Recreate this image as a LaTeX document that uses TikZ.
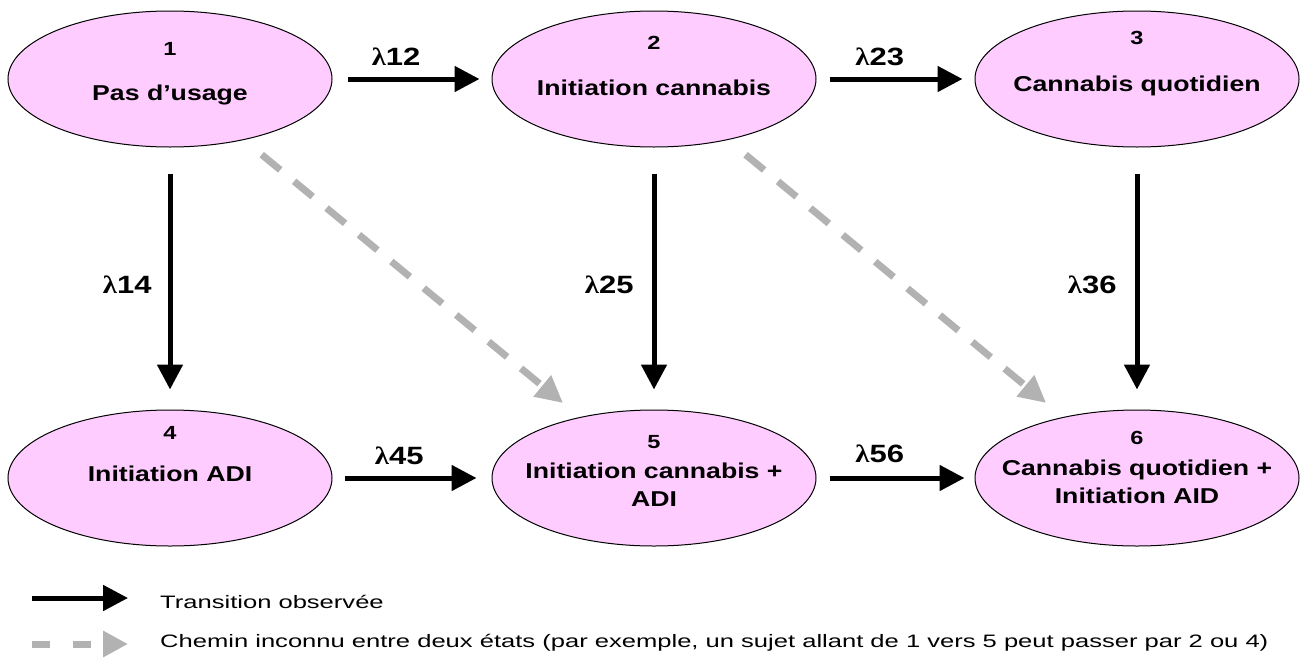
\documentclass[tikz,border=0pt]{standalone}
\usepackage{fontspec}
\setmainfont{Liberation Sans}[FakeStretch=1.24]
\newfontfamily\lamfont{Liberation Serif}[FakeStretch=1.15]
\newfontfamily\legfont{Liberation Sans}[FakeStretch=1.42]
\usetikzlibrary{shapes.geometric,arrows.meta}
\definecolor{etatrose}{RGB}{255,204,255}
\definecolor{grisfleche}{RGB}{178,178,178}

\begin{document}
\begin{tikzpicture}[x=1pt,y=-1pt,
    etat/.style={ellipse,draw=black,line width=1pt,fill=etatrose,
        minimum width=324pt,minimum height=136pt,inner sep=0pt},
    numero/.style={font=\fontsize{19}{20}\selectfont\bfseries,inner sep=0pt},
    libelle/.style={font=\fontsize{21.5}{28}\selectfont\bfseries,align=center,inner sep=0pt},
    obs/.style={line width=5pt,-{Triangle[length=25pt,width=25pt]}},
    inconnu/.style={grisfleche,line width=7pt,dash pattern=on 24pt off 18pt,
        -{Triangle[length=27pt,width=26pt]}},
    taux/.style={font=\fontsize{25}{25}\selectfont\bfseries,inner sep=0pt},
    legende/.style={font=\fontsize{18}{18}\selectfont\legfont,anchor=base west,inner sep=0pt}]
    \useasboundingbox (0,0) rectangle (1309,659);
    % etats
    \node[etat] (s1) at (170,79) {};
    \node[etat] (s2) at (654,79) {};
    \node[etat] (s3) at (1137,79) {};
    \node[etat] (s4) at (170,478) {};
    \node[etat] (s5) at (654,478) {};
    \node[etat] (s6) at (1137,478) {};
    \node[numero] (n1) at ([yshift=30pt]s1.center) {1};
    \node[numero] (n2) at ([yshift=36pt]s2.center) {2};
    \node[numero] (n3) at ([yshift=41pt]s3.center) {3};
    \node[numero] (n4) at ([yshift=45pt]s4.center) {4};
    \node[numero] (n5) at ([yshift=36pt]s5.center) {5};
    \node[numero] (n6) at ([yshift=40pt]s6.center) {6};
    \node[libelle,anchor=base] (e1) at ([yshift=-21pt]s1.center) {Pas d’usage};
    \node[libelle,anchor=base] (e2) at ([yshift=-16pt]s2.center) {Initiation cannabis};
    \node[libelle,anchor=base] (e3) at ([yshift=-12pt]s3.center) {Cannabis quotidien};
    \node[libelle,anchor=base] (e4) at ([yshift=-3pt]s4.center) {Initiation ADI};
    \node[libelle] (e5) at ([yshift=-7pt]s5.center) {Initiation cannabis +\\ADI};
    \node[libelle] (e6) at ([yshift=-4pt]s6.center) {Cannabis quotidien +\\Initiation AID};
    % transitions observees
    \draw[obs,shorten <=15pt,shorten >=12pt] (s1.east) -- (s2.west)
        node[taux,pos=0.4,yshift=22pt] (l12) {{\lamfont λ}12};
    \draw[obs,shorten <=13pt,shorten >=12pt] (s2.east) -- (s3.west)
        node[taux,pos=0.4,yshift=22pt] (l23) {{\lamfont λ}23};
    \draw[obs,shorten <=12pt,shorten >=15pt] (s4.east) -- (s5.west)
        node[taux,pos=0.42,yshift=22pt] (l45) {{\lamfont λ}45};
    \draw[obs,shorten <=13pt,shorten >=10pt] (s5.east) -- (s6.west)
        node[taux,pos=0.4,yshift=24pt] (l56) {{\lamfont λ}56};
    \draw[obs,shorten <=26pt,shorten >=20pt] (s1.south) -- (s4.north)
        node[taux,midway,left=16pt,yshift=-6pt] (l14) {{\lamfont λ}14};
    \draw[obs,shorten <=26pt,shorten >=20pt] (s2.south) -- (s5.north)
        node[taux,midway,left=18pt,yshift=-6pt] (l25) {{\lamfont λ}25};
    \draw[obs,shorten <=26pt,shorten >=20pt] (s3.south) -- (s6.north)
        node[taux,midway,left=18pt,yshift=-6pt] (l36) {{\lamfont λ}36};
    % chemins inconnus
    \draw[inconnu,shorten <=23pt,shorten >=22pt] (s1) -- (s5);
    \draw[inconnu,shorten <=23pt,shorten >=22pt] (s2) -- (s6);
    % legende
    \coordinate (a1) at (32,598);
    \coordinate (b1) at (128,598);
    \coordinate (a2) at (32,644);
    \coordinate (b2) at (128,644);
    \draw[obs] (a1) -- (b1);
    \draw[inconnu,dash pattern=on 18pt off 23pt,-{Triangle[length=25pt,width=25pt]}] (a2) -- (b2);
    \node[legende] (t1) at (160,608) {Transition observée};
    \node[legende] (t2) at (160,647) {Chemin inconnu entre deux états (par exemple, un sujet allant de 1 vers 5 peut passer par 2 ou 4)};
\end{tikzpicture}
\end{document}
